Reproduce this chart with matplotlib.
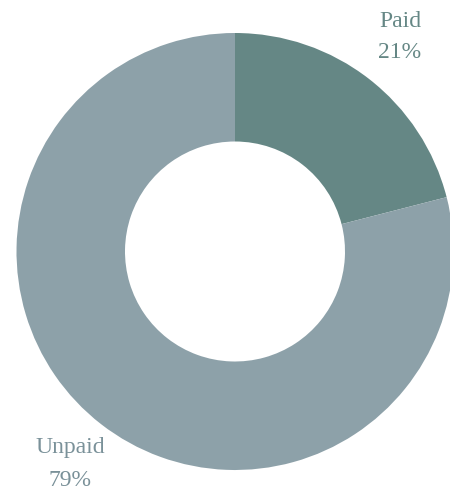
import matplotlib.pyplot as plt

# data
labels = ['Paid', 'Unpaid']
values = [21, 79]
colors = ['#658785', '#8da1a9']
text_colors = ['#658785', '#7a9199']

fig = plt.figure(figsize=(4.5, 4.94), dpi=100)
ax = fig.add_axes([0, 0, 1, 1])
ax.axis('off')

# donut, pixel-like coordinates (y up)
ax.pie(values, colors=colors, startangle=90, counterclock=False,
       center=(235, 242.5), radius=218.5,
       wedgeprops=dict(width=108.5, linewidth=0))
ax.set_xlim(0, 450)
ax.set_ylim(0, 494)
ax.set_aspect('equal')

# labels with percentages
pos = [(400, 473, 442), (70, 47, 14)]
for lab, v, c, (x, y1, y2) in zip(labels, values, text_colors, pos):
    ax.text(x, y1, lab, ha='center', va='center', fontsize=17,
            family='Liberation Serif', color=c)
    ax.text(x, y2, f'{v}%', ha='center', va='center', fontsize=17,
            family='Liberation Serif', color=c)

fig.savefig('out.png', dpi=100)
